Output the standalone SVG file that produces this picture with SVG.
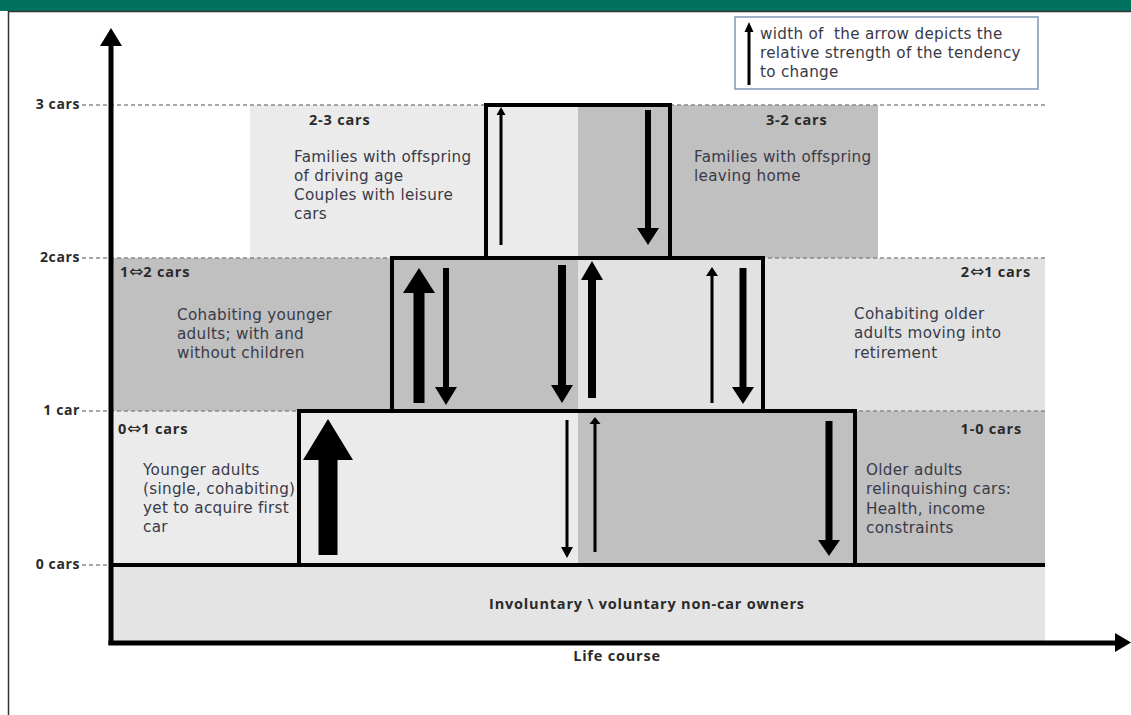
<svg xmlns="http://www.w3.org/2000/svg" width="1131" height="715" viewBox="0 0 1131 715">
<style>
.t{font-family:"DejaVu Sans","Liberation Sans",sans-serif;font-size:15.2px;letter-spacing:0.3px;fill:#3a3a48}
.b{font-family:"Open Sans","Liberation Sans",sans-serif;font-size:14.5px;letter-spacing:0.8px;font-weight:bold;fill:#2a2a2a}
.ax{font-family:"Open Sans","Liberation Sans",sans-serif;font-size:14px;letter-spacing:0.6px;font-weight:bold;fill:#2a2a2a;text-anchor:end}
.sym{font-family:"DejaVu Sans",sans-serif;font-size:17px;font-weight:normal;letter-spacing:0}
.dash{stroke:#8a8a8a;stroke-width:1.5;stroke-dasharray:4 3;fill:none}
.box{fill:none;stroke:#000;stroke-width:4}
.arr{fill:#000}
.lg{fill:#c0c0c0}
.lt{fill:#ebebeb}
.md{fill:#e2e2e2}
</style>
<rect x="0" y="0" width="1131" height="715" fill="#fff"/>
<rect x="0" y="0" width="1131" height="11" fill="#00705f"/>
<line x1="8" y1="11.5" x2="1131" y2="11.5" stroke="#333" stroke-width="1.5"/>
<line x1="8.5" y1="11" x2="8.5" y2="715" stroke="#333" stroke-width="1.5"/>

<g id="bands">
<rect class="lt" x="250" y="105" width="236" height="153"/>
<rect class="lg" x="670" y="105" width="208" height="153"/>
<rect class="lg" x="113" y="258" width="279" height="153"/>
<rect class="md" x="763" y="258" width="282" height="153"/>
<rect class="lt" x="113" y="411" width="186" height="154"/>
<rect class="lg" x="855" y="411" width="190" height="154"/>
<rect fill="#e4e4e4" x="113" y="565" width="932" height="76"/>
</g>

<g id="box-top">
<rect class="lt" x="486" y="105" width="92" height="153"/>
<rect class="lg" x="578" y="105" width="92" height="153"/>
</g>
<g id="box-middle">
<rect class="lg" x="392" y="258" width="186" height="153"/>
<rect class="md" x="578" y="258" width="185" height="153"/>
</g>
<g id="box-bottom">
<rect class="lt" x="299" y="411" width="279" height="154"/>
<rect class="lg" x="578" y="411" width="277" height="154"/>
</g>

<g id="gridlines">
<line class="dash" x1="82" y1="105" x2="1045" y2="105"/>
<line class="dash" x1="82" y1="258" x2="1045" y2="258"/>
<line class="dash" x1="82" y1="411" x2="1045" y2="411"/>
<line class="dash" x1="82" y1="565" x2="112" y2="565"/>
</g>

<g id="box-outlines">
<path class="box" d="M486,258 L486,105 L670,105 L670,258"/>
<path class="box" d="M392,411 L392,258 L763,258 L763,411"/>
<path class="box" d="M299,565 L299,411 L855,411 L855,565"/>
<line x1="110" y1="565" x2="1045" y2="565" stroke="#000" stroke-width="4"/>
</g>

<g id="axes">
<line x1="111" y1="40" x2="111" y2="645" stroke="#000" stroke-width="5"/>
<polygon class="arr" points="100,46 111,28 122,46"/>
<line x1="108.5" y1="643" x2="1118" y2="643" stroke="#000" stroke-width="5"/>
<polygon class="arr" points="1115,633 1131,642.5 1115,652"/>
<text class="ax" x="80" y="109">3 cars</text>
<text class="ax" x="80" y="262">2cars</text>
<text class="ax" x="80" y="415">1 car</text>
<text class="ax" x="80" y="569">0 cars</text>
<text class="b" x="617" y="661" text-anchor="middle">Life course</text>
</g>

<g id="node-2-3">
<text class="b" x="309" y="125">2-3 cars</text>
<text class="t" x="294" y="162">Families with offspring</text>
<text class="t" x="294" y="181">of driving age</text>
<text class="t" x="294" y="200">Couples with leisure</text>
<text class="t" x="294" y="219">cars</text>
</g>
<g id="node-3-2">
<text class="b" x="766" y="125">3-2 cars</text>
<text class="t" x="694" y="162">Families with offspring</text>
<text class="t" x="694" y="181">leaving home</text>
</g>
<g id="node-1-2">
<text class="b" x="120" y="277">1<tspan class="sym">⇔</tspan>2 cars</text>
<text class="t" x="177" y="320">Cohabiting younger</text>
<text class="t" x="177" y="339">adults; with and</text>
<text class="t" x="177" y="358">without children</text>
</g>
<g id="node-2-1">
<text class="b" x="1031" y="277" text-anchor="end">2<tspan class="sym">⇔</tspan>1 cars</text>
<text class="t" x="854" y="319">Cohabiting older</text>
<text class="t" x="854" y="338">adults moving into</text>
<text class="t" x="854" y="358">retirement</text>
</g>
<g id="node-0-1">
<text class="b" x="118" y="434">0<tspan class="sym">⇔</tspan>1 cars</text>
<text class="t" x="143" y="475">Younger adults</text>
<text class="t" x="143" y="494">(single, cohabiting)</text>
<text class="t" x="143" y="513">yet to acquire first</text>
<text class="t" x="143" y="532">car</text>
</g>
<g id="node-1-0">
<text class="b" x="1022" y="434" text-anchor="end">1-0 cars</text>
<text class="t" x="866" y="475">Older adults</text>
<text class="t" x="866" y="494">relinquishing cars:</text>
<text class="t" x="866" y="514">Health, income</text>
<text class="t" x="866" y="533">constraints</text>
</g>
<g id="node-0">
<text class="b" x="647" y="609" text-anchor="middle">Involuntary \ voluntary non-car owners</text>
</g>

<g id="legend">
<rect x="735" y="17" width="303" height="72" fill="#fff" stroke="#8098b8" stroke-width="1.5"/>
<path class="arr" d="M747.5,85 L747.5,32 L744.5,32 L749,22 L753.5,32 L750.5,32 L750.5,85 Z"/>
<text class="t" x="760" y="39">width of&#160; the arrow depicts the</text>
<text class="t" x="760" y="58">relative strength of the tendency</text>
<text class="t" x="760" y="77">to change</text>
</g>

<g id="connectors">
<path class="arr" d="M499.5,245 L499.5,115 L496.5,115 L501,107 L505.5,115 L502.5,115 L502.5,245 Z"/>
<path class="arr" d="M645,110 L645,228 L637,228 L648,245 L659,228 L651,228 L651,110 Z"/>
<path class="arr" d="M413.5,403 L413.5,293 L403,293 L419,268 L435,293 L424.5,293 L424.5,403 Z"/>
<path class="arr" d="M443,268 L443,387 L435,387 L446,405 L457,387 L449,387 L449,268 Z"/>
<path class="arr" d="M558,265 L558,385 L551,385 L562,403 L573,385 L566,385 L566,265 Z"/>
<path class="arr" d="M588,398 L588,280 L581,280 L592,261 L603,280 L596,280 L596,398 Z"/>
<path class="arr" d="M710.5,403 L710.5,276 L706,276 L712,267 L718,276 L713.5,276 L713.5,403 Z"/>
<path class="arr" d="M739.5,268 L739.5,387 L732,387 L743,404 L754,387 L746.5,387 L746.5,268 Z"/>
<path class="arr" d="M318.5,555 L318.5,460 L303,460 L328,419 L353,460 L337.5,460 L337.5,555 Z"/>
<path class="arr" d="M565.5,420 L565.5,547 L561,547 L567,558 L573,547 L568.5,547 L568.5,420 Z"/>
<path class="arr" d="M593.5,552 L593.5,424 L589.5,424 L595,417 L600.5,424 L596.5,424 L596.5,552 Z"/>
<path class="arr" d="M825.5,421 L825.5,540 L818,540 L829,556 L840,540 L832.5,540 L832.5,421 Z"/>
</g>
</svg>
